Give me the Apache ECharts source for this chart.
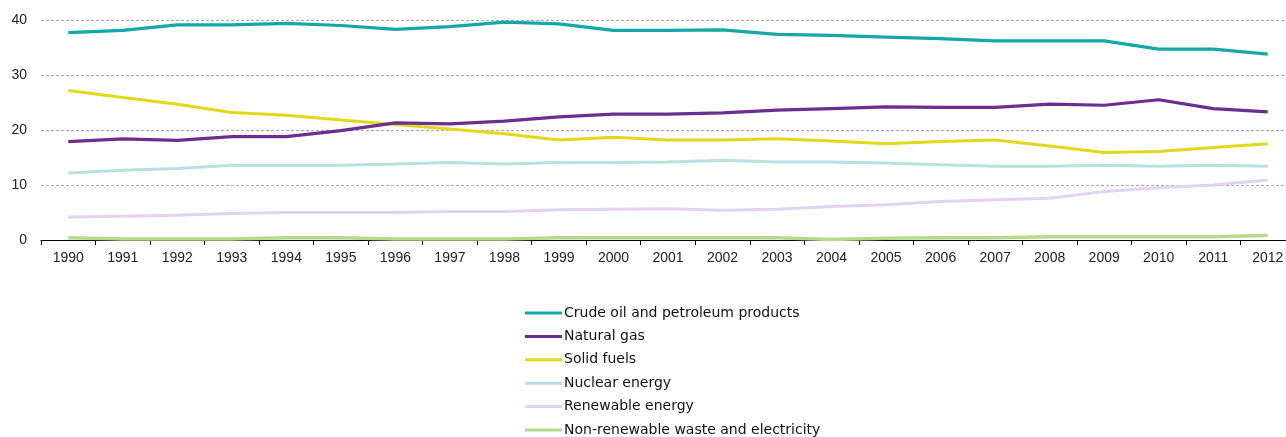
<!DOCTYPE html>
<html>
<head>
<meta charset="utf-8">
<script src="https://cdn.jsdelivr.net/npm/echarts@6/dist/echarts.min.js"></script>
<style>
  html, body { margin: 0; padding: 0; background: #fff; }
  #chart { width: 1286px; height: 437px; }
</style>
</head>
<body>
<div id="chart"></div>
<script>
// Years on the category axis
const years = ['1990','1991','1992','1993','1994','1995','1996','1997','1998','1999','2000','2001','2002','2003','2004','2005','2006','2007','2008','2009','2010','2011','2012'];

// Share of each fuel (%)
const crudeOil   = [37.7,38.1,39.1,39.1,39.4,39.0,38.3,38.8,39.6,39.3,38.1,38.1,38.2,37.4,37.2,36.9,36.6,36.2,36.2,36.2,34.7,34.7,33.8];
const naturalGas = [17.9,18.4,18.1,18.8,18.8,19.9,21.3,21.1,21.6,22.4,22.9,22.9,23.1,23.6,23.9,24.2,24.1,24.1,24.7,24.5,25.5,23.9,23.3];
const solidFuels = [27.2,25.9,24.7,23.2,22.7,21.8,21.0,20.2,19.3,18.2,18.7,18.2,18.2,18.4,18.0,17.5,17.9,18.2,17.1,15.9,16.1,16.8,17.5];
const nuclear    = [12.2,12.7,13.0,13.6,13.6,13.6,13.8,14.1,13.8,14.1,14.1,14.2,14.5,14.2,14.2,14.0,13.7,13.4,13.4,13.6,13.4,13.6,13.4];
const renewable  = [4.2,4.3,4.5,4.8,5.0,5.0,5.0,5.2,5.2,5.5,5.6,5.7,5.4,5.6,6.1,6.4,7.0,7.3,7.6,8.8,9.5,10.0,10.9];
const wasteElec  = [0.4,0.2,0.2,0.2,0.4,0.4,0.2,0.2,0.2,0.4,0.4,0.4,0.4,0.4,0.1,0.3,0.4,0.4,0.6,0.6,0.6,0.6,0.8];

// Value axis ticks
const yTicks = [0, 10, 20, 30, 40];

const names = [
  'Crude oil and petroleum products',
  'Natural gas',
  'Solid fuels',
  'Nuclear energy',
  'Renewable energy',
  'Non-renewable waste and electricity'
];
const values = [crudeOil, naturalGas, solidFuels, nuclear, renewable, wasteElec];
const colors = ['#12A8A8', '#6B2D90', '#E2D81A', '#B5E1E0', '#E3D3F1', '#B6DA8C'];
const widths = [3.2, 3.2, 3, 3, 3, 3.5];

const chart = echarts.init(document.getElementById('chart'), null, { renderer: 'canvas' });

chart.setOption({
  animation: false,
  textStyle: { fontFamily: 'Liberation Sans, Arial, sans-serif' },
  grid: {
    left: 41, top: 20, width: 1254, height: 220,
    containLabel: false,
    outerBoundsMode: 'none'
  },
  xAxis: {
    type: 'category',
    data: years,
    boundaryGap: true,
    axisLine: { lineStyle: { color: '#000', width: 1 } },
    axisTick: { show: true, length: 5, lineStyle: { color: '#000' } },
    axisLabel: { color: '#222', fontSize: 14, margin: 11, interval: 0 },
    splitLine: { show: false }
  },
  yAxis: {
    type: 'value',
    min: yTicks[0],
    max: yTicks[yTicks.length - 1],
    interval: 10,
    axisLine: { show: false },
    axisTick: { show: false },
    axisLabel: { color: '#222', fontSize: 14, margin: 14 },
    splitLine: { lineStyle: { color: '#aaa', type: [3, 2], width: 1 } }
  },
  legend: {
    orient: 'vertical',
    left: 525,
    top: 306,
    height: 131,
    padding: 0,
    icon: 'rect',
    itemWidth: 37,
    itemHeight: 3,
    itemGap: 9.4,
    textStyle: {
      color: '#111',
      fontSize: 14,
      fontFamily: 'DejaVu Sans, sans-serif',
      padding: [0, 0, 0, -3]
    },
    data: names
  },
  series: names.map((n, i) => ({
    name: n,
    type: 'line',
    data: values[i],
    symbol: 'none',
    smooth: false,
    z: 10 - i,
    lineStyle: { color: colors[i], width: widths[i] },
    itemStyle: { color: colors[i] }
  }))
});
</script>
</body>
</html>
